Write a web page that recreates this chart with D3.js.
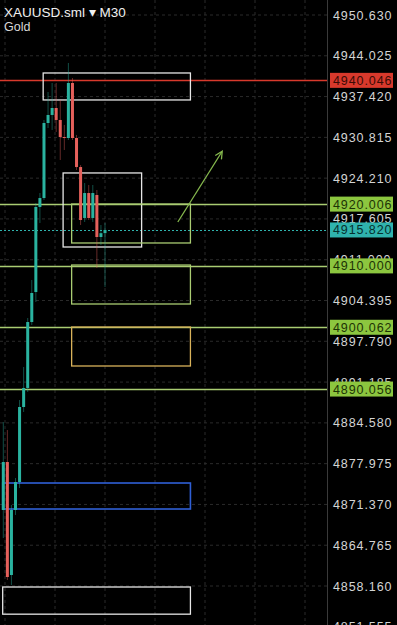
<!DOCTYPE html>
<html>
<head>
<meta charset="utf-8">
<script src="https://cdn.jsdelivr.net/npm/d3@7"></script>
<style>
  html, body { margin: 0; padding: 0; background: #000; }
  svg { display: block; }
  text { font-family: "Liberation Sans", Arial, sans-serif; }
</style>
</head>
<body>
<script>
// M30 candles, oldest first: [open, high, low, close]
var opens  = [4870.47, 4878.24, 4859.94, 4870.47, 4875.00, 4887.15, 4890.23, 4900.91, 4905.77, 4919.54, 4920.99, 4933.14, 4934.44, 4935.57, 4933.63, 4930.87, 4930.71, 4939.62, 4930.71, 4926.01, 4917.76, 4921.80, 4917.76, 4921.48, 4914.68, 4915.30];
var highs  = [4884.72, 4883.42, 4871.28, 4875.65, 4888.28, 4893.63, 4901.56, 4907.72, 4920.18, 4921.80, 4933.63, 4938.16, 4939.62, 4939.62, 4936.87, 4932.82, 4942.86, 4940.43, 4931.20, 4926.34, 4923.42, 4923.10, 4923.10, 4922.29, 4916.62, 4916.95];
var lows   = [4865.93, 4859.13, 4858.32, 4869.66, 4874.03, 4886.34, 4889.58, 4900.43, 4904.15, 4916.95, 4920.67, 4932.33, 4932.01, 4931.68, 4927.15, 4928.77, 4930.39, 4930.39, 4925.53, 4916.62, 4917.11, 4917.43, 4917.11, 4909.66, 4913.38, 4906.58];
var closes = [4878.24, 4859.62, 4870.47, 4875.00, 4887.15, 4890.23, 4900.91, 4905.61, 4919.54, 4920.99, 4933.14, 4934.44, 4935.57, 4933.63, 4930.87, 4930.71, 4939.62, 4930.71, 4926.01, 4917.43, 4921.80, 4917.76, 4921.80, 4914.68, 4915.30, 4915.82];

var tickValues = [4950.630, 4944.025, 4937.420, 4930.815, 4924.210, 4917.605, 4911.000, 4904.395, 4897.790, 4891.185, 4884.580, 4877.975, 4871.370, 4864.765, 4858.160, 4851.555];

// horizontal levels
var levelPrices = [4940.046, 4920.006, 4910.000, 4900.062, 4890.056];
var levelKinds  = ["red", "green", "green", "green", "green"];
var lastPrice = 4915.820;

// zones: [start bar, end bar, top price, bottom price, kind]
var zoneStart = [9.8, 14.7, 16.8, 16.8, 16.8, -0.15, -0.15];
var zoneEnd   = [46, 34, 46, 46, 46, 46, 46];
var zoneTop   = [4941.24, 4925.05, 4920.02, 4910.14, 4900.10, 4874.84, 4858.00];
var zoneBot   = [4936.87, 4913.06, 4913.71, 4903.83, 4893.79, 4870.63, 4853.60];
var zoneKind  = ["white", "white", "green", "green", "yellow", "blue", "white"];

// trend arrow [bar, price]
var arrowFrom = [42.9, 4917.11];
var arrowTo   = [53.7, 4928.44];

var W = 397, H = 625, plotRight = 327;
var colors = {
  up: "#2ab3a0", down: "#e5605b",
  red: "#d8392c", green: "#8cc63f", greenLine: "#a9cc72",
  white: "#e8e8e8", yellow: "#d9b25a", blue: "#2f5fd6", cyan: "#2fb3ad"
};

var svg = d3.select("body").append("svg").attr("width", W).attr("height", H);
svg.append("rect").attr("width", W).attr("height", H).attr("fill", "#000");

var y = d3.scaleLinear().domain([4851.555, 4950.630]).range([626.8, 15]);
var x = d3.scaleLinear().domain([0, 25]).range([3.3, 105]);

// grid
var grid = svg.append("g");
grid.selectAll(".hg").data(tickValues).enter().append("line")
  .attr("x1", 0).attr("x2", plotRight)
  .attr("y1", d => y(d)).attr("y2", d => y(d))
  .attr("stroke", "#2a2a2a").attr("stroke-dasharray", "3,3");
grid.selectAll(".vg").data([5, 55, 105, 155, 205, 255, 305]).enter().append("line")
  .attr("x1", d => d).attr("x2", d => d)
  .attr("y1", 0).attr("y2", H)
  .attr("stroke", "#2a2a2a").attr("stroke-dasharray", "3,3");

svg.append("line").attr("x1", plotRight + 0.5).attr("x2", plotRight + 0.5)
  .attr("y1", 0).attr("y2", H).attr("stroke", "#3a3a3a");

// axis labels
var axis = d3.axisRight(y).tickValues(tickValues).tickSize(0).tickPadding(6)
  .tickFormat(d3.format(".3f"));
var ag = svg.append("g").attr("transform", `translate(${plotRight},0)`).call(axis);
ag.select(".domain").remove();
ag.selectAll("text").attr("fill", "#d4d4d4").attr("font-size", 12.5)
  .attr("letter-spacing", "0.9px");

// level lines
svg.selectAll(".lvl").data(levelPrices).enter().append("line")
  .attr("x1", 0).attr("x2", plotRight)
  .attr("y1", d => Math.round(y(d)) + 0.5).attr("y2", d => Math.round(y(d)) + 0.5)
  .attr("stroke", (d, i) => levelKinds[i] == "red" ? colors.red : colors.greenLine)
  .attr("stroke-width", 1.5);

svg.append("line")
  .attr("x1", 0).attr("x2", plotRight)
  .attr("y1", Math.round(y(lastPrice)) + 0.5).attr("y2", Math.round(y(lastPrice)) + 0.5)
  .attr("stroke", colors.cyan).attr("stroke-dasharray", "2,2");

// zones
var zoneColor = { white: "#e6e6e6", green: "#a9cc72", yellow: "#d9b25a", blue: colors.blue };
svg.selectAll(".zone").data(zoneTop).enter().append("rect")
  .attr("x", (d, i) => x(zoneStart[i]))
  .attr("y", (d, i) => y(zoneTop[i]))
  .attr("width", (d, i) => x(zoneEnd[i]) - x(zoneStart[i]))
  .attr("height", (d, i) => y(zoneBot[i]) - y(zoneTop[i]))
  .attr("fill", "none")
  .attr("stroke", (d, i) => zoneColor[zoneKind[i]])
  .attr("stroke-width", (d, i) => zoneKind[i] == "blue" ? 1.6 : 1.3);

// candles
var bars = d3.range(opens.length);
var cg = svg.append("g");
cg.selectAll(".wick").data(bars).enter().append("line")
  .attr("x1", i => x(i)).attr("x2", i => x(i))
  .attr("y1", i => y(highs[i])).attr("y2", i => y(lows[i]))
  .attr("stroke", i => closes[i] >= opens[i] ? colors.up : colors.down)
  .attr("stroke-opacity", 0.55).attr("stroke-width", 0.8);
cg.selectAll(".body").data(bars).enter().append("rect")
  .attr("x", i => x(i) - 1.5)
  .attr("y", i => y(Math.max(opens[i], closes[i])))
  .attr("width", 3)
  .attr("height", i => Math.max(1, Math.abs(y(opens[i]) - y(closes[i]))))
  .attr("fill", i => closes[i] >= opens[i] ? colors.up : colors.down);

// arrow
svg.append("defs").append("marker")
  .attr("id", "ah").attr("viewBox", "0 0 10 10").attr("refX", 8).attr("refY", 5)
  .attr("markerWidth", 7).attr("markerHeight", 7).attr("orient", "auto")
  .append("path").attr("d", "M1,1 L9,5 L1,9").attr("fill", "none")
  .attr("stroke", "#86b94e").attr("stroke-width", 1.4);
svg.append("line")
  .attr("x1", x(arrowFrom[0])).attr("y1", y(arrowFrom[1]))
  .attr("x2", x(arrowTo[0])).attr("y2", y(arrowTo[1]))
  .attr("stroke", "#86b94e").attr("stroke-width", 1.3)
  .attr("marker-end", "url(#ah)");

// price tags
var tagPrices = levelPrices.concat([lastPrice]);
var tagFill = levelKinds.map(k => k == "red" ? colors.red : colors.green).concat([colors.cyan]);
var tagText = levelKinds.map(k => k == "red" ? "#3a0b06" : "#1d3305").concat(["#06302e"]);
var tags = svg.selectAll(".tag").data(tagPrices).enter().append("g")
  .attr("transform", d => `translate(330,${y(d)})`);
tags.append("rect").attr("x", 0).attr("y", -7.5).attr("width", 63).attr("height", 15)
  .attr("fill", (d, i) => tagFill[i]);
tags.append("text").attr("x", 3).attr("y", 0).attr("dy", "0.36em")
  .attr("font-size", 12.5).attr("letter-spacing", "0.9px")
  .attr("fill", (d, i) => tagText[i])
  .text(d => d3.format(".3f")(d));

// title
svg.append("text").attr("x", 4).attr("y", 17).attr("fill", "#f0f0f0")
  .attr("font-size", 13.5).text("XAUUSD.sml ▾ M30");
svg.append("text").attr("x", 4).attr("y", 31).attr("fill", "#d8d8d8")
  .attr("font-size", 12.5).text("Gold");
</script>
</body>
</html>
